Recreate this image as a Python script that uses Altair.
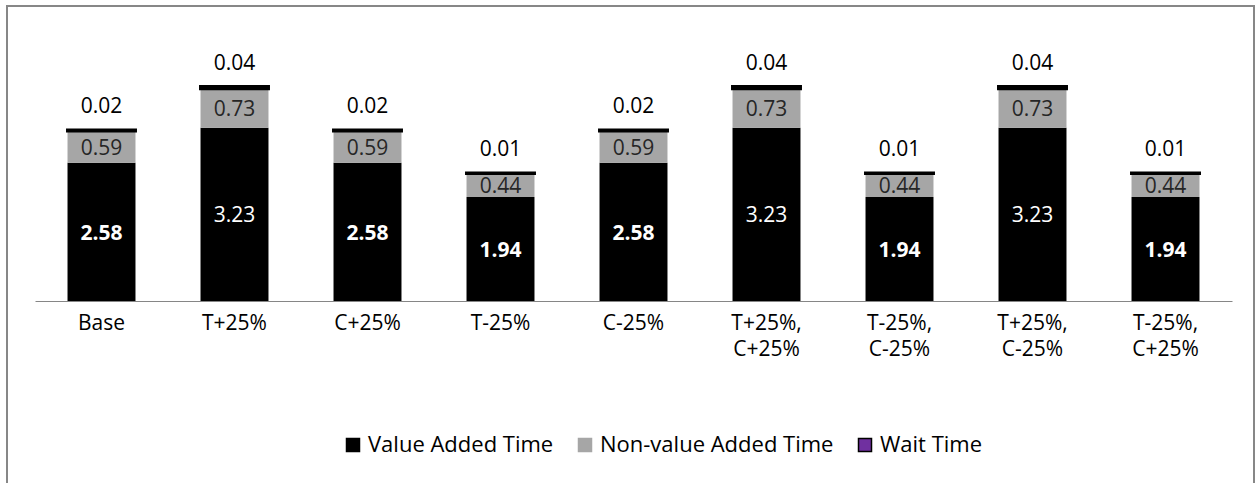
import json
import altair as alt
import pandas as pd

# Scenario results: time per unit split by activity type
SCENARIOS = ["Base", "T+25%", "C+25%", "T-25%", "C-25%",
             "T+25%, C+25%", "T-25%, C-25%", "T+25%, C-25%", "T-25%, C+25%"]
VALUE_ADDED = [2.58, 3.23, 2.58, 1.94, 2.58, 3.23, 1.94, 3.23, 1.94]
NON_VALUE_ADDED = [0.59, 0.73, 0.59, 0.44, 0.59, 0.73, 0.44, 0.73, 0.44]
WAIT = [0.02, 0.04, 0.02, 0.01, 0.02, 0.04, 0.01, 0.04, 0.01]

SERIES = ["Value Added Time", "Non-value Added Time", "Wait Time"]
FILLS = ["#000000", "#a6a6a6", "#7030a0"]
STROKES = ["#000000", "#a6a6a6", "#000000"]

FONT = "Open Sans"
FS = 21
W, H = 1197, 268

df = pd.DataFrame({
    "scenario": SCENARIOS,
    "Value Added Time": VALUE_ADDED,
    "Non-value Added Time": NON_VALUE_ADDED,
    "Wait Time": WAIT,
})

x_enc = alt.X(
    "scenario:N", sort=SCENARIOS,
    scale=alt.Scale(paddingInner=0.489, paddingOuter=0.2445),
    axis=alt.Axis(
        title=None, labelAngle=0, ticks=False,
        labelExpr="split(datum.label, ' ')",
        labelFont=FONT, labelFontSize=21, labelColor="#000000",
        labelLineHeight=26, labelPadding=11, labelBaseline="top",
        domainColor="#868686", domainWidth=1,
    ),
)
y_scale = alt.Scale(domain=[0, 5], nice=False, zero=True)

legend = alt.Legend(
    title=None, orient="none", legendX=307, legendY=401,
    direction="horizontal", symbolType="square", symbolSize=169,
    symbolStrokeWidth=1.5, labelFont=FONT, labelFontSize=22,
    labelColor="#000000", labelOffset=4, columnPadding=20, labelLimit=0,
)

base = alt.Chart(df)

bars = base.transform_fold(
    SERIES, as_=["series", "hours"]
).transform_calculate(
    series_order="indexof(%s, datum.series)" % json.dumps(SERIES)
).mark_bar().encode(
    x=x_enc,
    y=alt.Y("hours:Q", stack="zero", scale=y_scale, axis=None),
    fill=alt.Fill("series:N", scale=alt.Scale(domain=SERIES, range=FILLS), legend=legend),
    stroke=alt.Stroke("series:N", scale=alt.Scale(domain=SERIES, range=STROKES), legend=legend),
    strokeWidth=alt.condition("datum.series == 'Wait Time'", alt.value(3), alt.value(0)),
    order=alt.Order("series_order:Q", sort="ascending"),
)

labels = base.transform_calculate(
    mid_va="datum['Value Added Time'] / 2",
    mid_nva="datum['Value Added Time'] + datum['Non-value Added Time'] / 2",
    top="datum['Value Added Time'] + datum['Non-value Added Time'] + datum['Wait Time']",
)

va_bold = labels.transform_filter("datum['Value Added Time'] < 3").mark_text(
    font=FONT, fontSize=FS, fontWeight="bold", color="#ffffff", baseline="middle", dy=2
).encode(
    x=x_enc, y=alt.Y("mid_va:Q", scale=y_scale, axis=None),
    text=alt.Text(field="Value Added Time", type="quantitative", format=".2f"),
)
va_plain = labels.transform_filter("datum['Value Added Time'] >= 3").mark_text(
    font=FONT, fontSize=FS, color="#ffffff", baseline="middle", dy=2
).encode(
    x=x_enc, y=alt.Y("mid_va:Q", scale=y_scale, axis=None),
    text=alt.Text(field="Value Added Time", type="quantitative", format=".2f"),
)
nva_text = labels.mark_text(
    font=FONT, fontSize=FS, color="#262626", baseline="middle", dy=2
).encode(
    x=x_enc, y=alt.Y("mid_nva:Q", scale=y_scale, axis=None),
    text=alt.Text(field="Non-value Added Time", type="quantitative", format=".2f"),
)
wait_text = labels.mark_text(
    font=FONT, fontSize=FS, color="#000000", baseline="alphabetic", dy=-17
).encode(
    x=x_enc, y=alt.Y("top:Q", scale=y_scale, axis=None),
    text=alt.Text(field="Wait Time", type="quantitative", format=".2f"),
)

# Outer chart-area frame
frame = alt.Chart(pd.DataFrame({"frame": [0]})).mark_rect(
    fillOpacity=0, stroke="#878787", strokeWidth=2
).encode(
    x=alt.value(-28), x2=alt.value(1219), y=alt.value(-27), y2=alt.value(H + 220)
)

chart = alt.layer(frame, bars, va_bold, va_plain, nva_text, wait_text).properties(
    width=W, height=H,
    autosize=alt.AutoSizeParams(type="none"),
    padding={"left": 35, "top": 33, "right": 26, "bottom": 182},
    background="#ffffff",
).configure_view(stroke=None)

chart.save("out.html", embed_options={"renderer": "svg", "actions": False})
